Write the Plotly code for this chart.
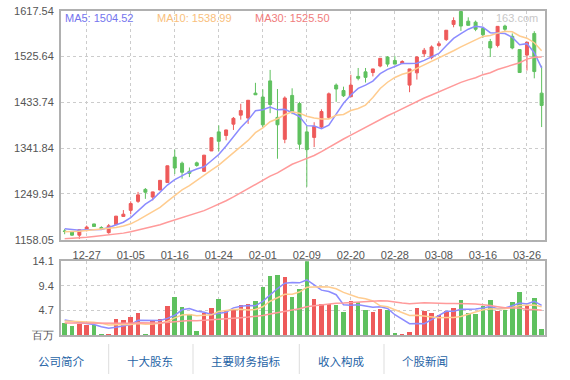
import plotly.graph_objects as go

W, H = 570, 380

dates = ["12-22", "12-23", "12-26", "12-27", "12-28", "12-29", "12-30", "01-03", "01-04", "01-05",
         "01-06", "01-09", "01-10", "01-11", "01-12", "01-16", "01-17", "01-18", "01-19", "01-20",
         "01-23", "01-24", "01-25", "01-26", "01-27", "01-30", "01-31", "02-01", "02-02", "02-03",
         "02-06", "02-07", "02-08", "02-09", "02-10", "02-13", "02-14", "02-15", "02-17", "02-20",
         "02-21", "02-22", "02-23", "02-24", "02-27", "02-28", "03-01", "03-02", "03-03", "03-06",
         "03-07", "03-08", "03-09", "03-10", "03-13", "03-14", "03-15", "03-16", "03-17", "03-20",
         "03-21", "03-22", "03-23", "03-26", "03-27", "03-28"]

open_ = [1175.4, 1173.6, 1167.1, 1178.5, 1189.7, 1182.5, 1172.2, 1188.3, 1204.7, 1217.0,
         1235.0, 1259.0, 1243.6, 1257.8, 1272.8, 1323.9, 1311.6, 1295.3, 1312.3, 1295.3,
         1336.2, 1374.5, 1367.3, 1390.0, 1408.1, 1402.3, 1452.3, 1444.5, 1476.9, 1403.6,
         1359.5, 1447.7, 1431.4, 1374.5, 1363.4, 1384.2, 1403.6, 1468.4, 1457.5, 1445.0,
         1485.9, 1495.0, 1493.7, 1506.7, 1524.8, 1517.7, 1511.9, 1468.4, 1493.0, 1531.4,
         1523.6, 1548.1, 1559.8, 1590.3, 1616.2, 1596.8, 1594.8, 1582.0, 1555.9, 1548.1,
         1587.0, 1566.4, 1539.8, 1528.7, 1572.2, 1452.3]
high = [1179.5, 1174.5, 1178.5, 1186.4, 1190.0, 1185.0, 1189.6, 1205.8, 1217.5, 1235.0,
        1254.0, 1261.7, 1254.5, 1277.5, 1306.8, 1338.8, 1314.8, 1303.0, 1314.8, 1328.2,
        1364.0, 1387.5, 1378.8, 1404.4, 1430.9, 1438.5, 1473.0, 1460.0, 1498.9, 1460.6,
        1445.8, 1462.0, 1434.8, 1386.0, 1393.9, 1419.8, 1453.6, 1471.7, 1465.3, 1489.2,
        1502.8, 1502.8, 1501.2, 1522.5, 1526.7, 1526.7, 1518.4, 1501.2, 1526.7, 1543.0,
        1548.1, 1555.9, 1578.9, 1604.5, 1617.5, 1604.5, 1598.0, 1585.0, 1561.1, 1586.6,
        1589.7, 1572.2, 1540.0, 1555.0, 1576.7, 1507.3]
low = [1169.0, 1166.0, 1159.3, 1174.8, 1184.5, 1177.5, 1170.0, 1188.0, 1204.5, 1209.0,
       1232.0, 1240.0, 1237.0, 1257.5, 1272.5, 1290.0, 1280.5, 1283.7, 1304.5, 1295.0,
       1336.0, 1335.6, 1357.6, 1378.4, 1399.0, 1390.6, 1449.0, 1384.2, 1412.0, 1320.6,
       1351.7, 1410.0, 1338.9, 1264.2, 1344.0, 1380.9, 1400.3, 1434.8, 1444.5, 1444.8,
       1478.0, 1473.6, 1485.9, 1504.2, 1505.4, 1510.4, 1510.6, 1454.2, 1479.5, 1524.8,
       1520.3, 1545.0, 1557.2, 1584.5, 1577.3, 1588.2, 1576.7, 1563.7, 1524.8, 1544.2,
       1576.7, 1540.3, 1493.5, 1497.6, 1482.0, 1384.2]
close = [1174.8, 1167.1, 1178.1, 1183.3, 1184.5, 1180.5, 1185.9, 1205.3, 1209.2, 1230.6,
         1248.0, 1253.3, 1254.0, 1277.2, 1306.4, 1301.9, 1293.4, 1291.4, 1307.0, 1327.8,
         1362.8, 1355.6, 1378.4, 1401.7, 1417.2, 1438.0, 1449.0, 1388.7, 1429.5, 1388.7,
         1442.5, 1415.3, 1349.8, 1338.9, 1385.5, 1415.3, 1450.9, 1460.6, 1447.0, 1468.4,
         1482.0, 1484.0, 1500.9, 1522.2, 1510.6, 1510.6, 1515.8, 1500.9, 1524.8, 1538.4,
         1545.0, 1551.4, 1578.6, 1598.1, 1587.0, 1588.4, 1580.6, 1569.5, 1543.0, 1586.4,
         1580.6, 1543.0, 1493.7, 1554.7, 1495.6, 1427.6]
volume = [2.29, 1.73, 2.10, 2.04, 1.98, 0.25, 0.25, 3.16, 2.97, 3.53,
          4.27, 0.25, 2.79, 3.16, 5.57, 7.24, 5.45, 4.12, 0.74, 4.30,
          5.20, 6.87, 4.83, 4.90, 5.80, 5.97, 6.50, 9.13, 11.33, 11.55,
          11.00, 7.27, 8.73, 14.10, 6.90, 5.94, 5.94, 5.73, 4.49, 6.50,
          6.32, 4.83, 4.49, 5.02, 4.83, 0.37, 0.19, 0.56, 5.20, 4.67,
          4.30, 3.90, 4.67, 5.20, 6.69, 4.30, 4.09, 5.60, 6.69, 4.67,
          4.86, 6.32, 8.17, 5.82, 7.06, 1.10]

# closes / volumes before the visible window (estimated from where the MA lines start)
prior_close = [1150, 1146, 1141, 1138, 1142, 1147, 1145, 1150, 1153, 1148,
               1152, 1155, 1151, 1156, 1161, 1160, 1166, 1163, 1168, 1169,
               1165, 1171, 1166, 1170, 1168, 1176, 1183, 1180, 1186]
prior_volume = [2.0, 2.4, 1.9, 2.3, 2.1, 2.6, 1.8, 2.2, 2.5, 2.0,
                2.3, 1.9, 2.4, 2.1, 2.2, 2.6, 2.0, 2.3, 1.9, 2.1,
                2.3, 2.7, 2.4, 2.6, 2.5, 3.2, 2.9, 3.1, 3.0]

legend_labels = ["MA5: 1504.52", "MA10: 1538.99", "MA30: 1525.50"]
ma_periods = [5, 10, 30]
price_ticks = [1158.05, 1249.94, 1341.84, 1433.74, 1525.64, 1617.54]
vol_ticks = [0, 4.7, 9.4, 14.1]
vol_tick_text = ["百万", "4.7", "9.4", "14.1"]
date_ticks = ["12-27", "01-05", "01-16", "01-24", "02-01", "02-09",
              "02-20", "02-28", "03-08", "03-16", "03-26"]
nav_items = ["公司简介", "十大股东", "主要财务指标", "收入构成", "个股新闻"]

RED = "#ee5a5a"
GREEN = "#5fc15f"
MA_COLORS = ["#8c8cff", "#ffcc8f", "#ff9a9a"]
LEGEND_COLORS = ["#7474ee", "#f9c07c", "#f07c7c"]
AXIS = "#b0b0b0"
GRID = "#cccccc"
TICKC = "#555555"
FONT = "Liberation Sans, Arial, sans-serif"


def moving_avg(series, prior, n):
    full = list(prior) + list(series)
    k = len(prior)
    return [sum(full[k + i - n + 1:k + i + 1]) / n for i in range(len(series))]


def px_x(px):
    return px / W


def px_y(py):
    return 1 - py / H


fig = go.Figure()

fig.add_trace(go.Candlestick(
    x=dates, open=open_, high=high, low=low, close=close,
    increasing=dict(line=dict(color=RED, width=1), fillcolor=RED),
    decreasing=dict(line=dict(color=GREEN, width=1), fillcolor=GREEN),
    whiskerwidth=0, showlegend=False, hoverinfo="skip",
    xaxis="x", yaxis="y"))

for n, col in zip(ma_periods, MA_COLORS):
    fig.add_trace(go.Scatter(x=dates, y=moving_avg(close, prior_close, n), mode="lines",
                             line=dict(color=col, width=1.5), showlegend=False,
                             hoverinfo="skip", xaxis="x", yaxis="y"))

vol_colors = [RED if c >= o else GREEN for o, c in zip(open_, close)]
fig.add_trace(go.Bar(x=dates, y=volume, marker=dict(color=vol_colors, line=dict(width=0)),
                     width=0.62, showlegend=False, hoverinfo="skip",
                     xaxis="x2", yaxis="y2"))

for n, col in zip(ma_periods, MA_COLORS):
    fig.add_trace(go.Scatter(x=dates, y=moving_avg(volume, prior_volume, n), mode="lines",
                             line=dict(color=col, width=1.5), showlegend=False,
                             hoverinfo="skip", xaxis="x2", yaxis="y2"))

x_dom = [px_x(61), px_x(545.3)]
common_x = dict(type="category", range=[-0.5, len(dates) - 0.5], domain=x_dom,
                showline=True, linecolor=AXIS, linewidth=2, mirror=True,
                showgrid=True, gridcolor=GRID, griddash="3px,3px", gridwidth=1,
                tickvals=date_ticks, ticktext=date_ticks, zeroline=False,
                fixedrange=True)
common_y = dict(showline=True, linecolor=AXIS, linewidth=2, mirror=True,
                showgrid=True, gridcolor=GRID, griddash="3px,3px", gridwidth=1,
                zeroline=False, ticks="outside", ticklen=3, tickcolor="rgba(0,0,0,0)",
                tickfont=dict(family=FONT, size=11, color=TICKC), fixedrange=True)

fig.update_layout(
    width=W, height=H, margin=dict(l=0, r=0, t=0, b=0),
    paper_bgcolor="white", plot_bgcolor="white", boxgap=0.42, bargap=0,
    showlegend=False,
    xaxis=dict(common_x, anchor="y", rangeslider=dict(visible=False),
               ticks="outside", ticklen=4, tickcolor="rgba(0,0,0,0)",
               tickfont=dict(family=FONT, size=11, color=TICKC)),
    yaxis=dict(common_y, domain=[px_y(241.3), px_y(5)], range=[price_ticks[0], price_ticks[-1]],
               tickvals=price_ticks, ticktext=["%.2f" % v for v in price_ticks]),
    xaxis2=dict(common_x, anchor="y2", matches="x", showticklabels=False),
    yaxis2=dict(common_y, domain=[px_y(340), px_y(263.5)], range=[vol_ticks[0], vol_ticks[-1]],
                tickvals=vol_ticks, ticktext=vol_tick_text),
)

annotations = []
legend_x = [63, 154.5, 252.5]
for txt, col, lx in zip(legend_labels, LEGEND_COLORS, legend_x):
    annotations.append(dict(text=txt, x=px_x(lx), y=px_y(12.3), xref="paper", yref="paper",
                            xanchor="left", yanchor="middle", showarrow=False,
                            font=dict(family=FONT, size=11, color=col)))
annotations.append(dict(text="163.com", x=px_x(540), y=px_y(12.3), xref="paper", yref="paper",
                        xanchor="right", yanchor="middle", showarrow=False,
                        font=dict(family=FONT, size=11, color="#c8c8c8")))

nav_centers = [61, 150, 245.7, 341, 425]
for txt, cx in zip(nav_items, nav_centers):
    annotations.append(dict(text=txt, x=px_x(cx), y=px_y(367), xref="paper", yref="paper",
                            xanchor="center", yanchor="middle", showarrow=False,
                            font=dict(family="Noto Sans CJK SC, sans-serif", size=11.5, color="#1f64a6")))
fig.update_layout(annotations=annotations)

shapes = []
for sx in [108.7, 193, 299.3, 384]:
    shapes.append(dict(type="line", xref="paper", yref="paper", x0=px_x(sx), x1=px_x(sx),
                       y0=px_y(349), y1=px_y(380), line=dict(color="#dddddd", width=1)))
fig.update_layout(shapes=shapes)

page_fix = (
    "var h=document.documentElement,b=document.body;"
    "h.style.margin='0';h.style.padding='0';h.style.overflow='hidden';h.style.height='380px';"
    "b.style.margin='0';b.style.padding='0';b.style.overflow='hidden';b.style.height='380px';"
)
fig.write_html("out.html", config=dict(displayModeBar=False, staticPlot=True),
               post_script=page_fix)
